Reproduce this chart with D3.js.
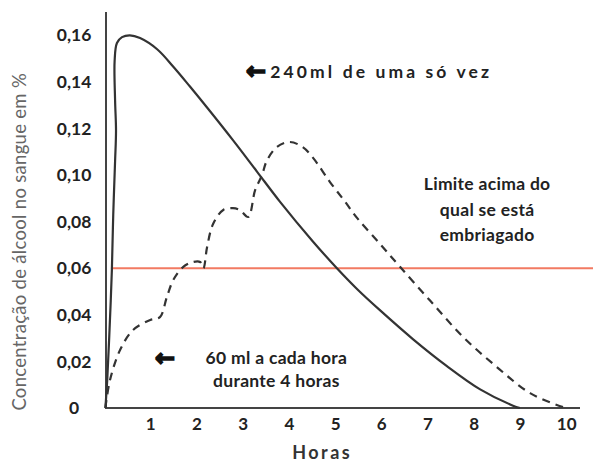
<!DOCTYPE html>
<html><head><meta charset="utf-8">
<script src="https://cdn.jsdelivr.net/npm/d3@7"></script>
<style>
html,body{margin:0;padding:0;background:#fff;}
svg{display:block;}
</style></head>
<body>
<svg id="c" width="593" height="462"></svg>
<script>
// ---- data ----
const singleDoseHours = [0.03,0.07,0.11,0.17,0.2,0.24,0.26,0.24,0.23,0.28,0.39,0.56,0.78,1.15,1.5,1.86,2.23,2.79,3.31,3.81,4.52,5.04,5.48,5.97,6.69,7.42,8.14,8.85,9.0];
const singleDoseValues = [0,0.012,0.029,0.059,0.083,0.106,0.119,0.132,0.149,0.1567,0.1592,0.160,0.1588,0.1540,0.1465,0.1380,0.1290,0.1150,0.1015,0.0885,0.0715,0.060,0.051,0.042,0.0295,0.018,0.008,0.001,0];
const hourlyDoseHours = [0.03,0.13,0.35,0.63,1.0,1.21,1.36,1.5,1.71,1.93,2.08,2.15,2.23,2.36,2.58,2.79,2.94,3.12,3.27,3.42,3.52,3.74,4.02,4.3,4.52,4.89,5.2,5.48,5.97,6.41,7.06,7.77,8.5,9.22,9.94,10.05];
const hourlyDoseValues = [0,0.012,0.025,0.0335,0.0378,0.039,0.0476,0.055,0.0605,0.0627,0.0627,0.060,0.069,0.079,0.085,0.0858,0.085,0.082,0.0935,0.1,0.106,0.112,0.1142,0.112,0.1075,0.097,0.089,0.0815,0.0705,0.0605,0.046,0.0305,0.0176,0.0064,0.0004,0];
const limitValue = 0.06;
const xTickValues = [1,2,3,4,5,6,7,8,9,10];
const yTickValues = [0,0.02,0.04,0.06,0.08,0.10,0.12,0.14,0.16];
const yTickLabels = ["0","0,02","0,04","0,06","0,08","0,10","0,12","0,14","0,16"];
const xAxisTitle = "Horas";
const yAxisTitle = "Concentração de álcool no sangue em %";
const singleDoseLabel = "240ml de uma só vez";
const hourlyDoseLabel = ["60 ml a cada hora","durante 4 horas"];
const limitLabel = ["Limite acima do","qual se está","embriagado"];

// ---- chart ----
const svg = d3.select("#c");
const x = d3.scaleLinear().domain([0,10.3]).range([104,580]);
const y = d3.scaleLinear().domain([0,0.17]).range([408,12]);
const font = "Lato, 'Open Sans', sans-serif";
const ink = "#222";

// limit line
svg.append("line")
  .attr("x1", x(0.15)).attr("x2", x(10.6))
  .attr("y1", y(limitValue)).attr("y2", y(limitValue))
  .attr("stroke","#f27a62").attr("stroke-width",2);

// axes
const yAxis = d3.axisLeft(y).tickValues(yTickValues).tickSize(0)
  .tickFormat((d,i)=>yTickLabels[i]);
const gy = svg.append("g").attr("transform",`translate(${x(0)+2},0)`).call(yAxis);
gy.select(".domain").attr("stroke","#444").attr("stroke-width",2)
  .attr("d", `M0,${y(0)+1}V${y(0.17)}`);
gy.selectAll("text").attr("x",-32).attr("text-anchor","middle")
  .attr("font-family",font).attr("font-weight","bold").attr("font-size",17.5).attr("fill",ink);

const xAxis = d3.axisBottom(x).tickValues(xTickValues).tickSize(0).tickPadding(10).tickFormat(d3.format("d"));
const gx = svg.append("g").attr("transform",`translate(0,${y(0)})`).call(xAxis);
gx.select(".domain").attr("stroke","#444").attr("stroke-width",2)
  .attr("d", `M${x(0)+1},0H${x(10.3)}`);
gx.selectAll("text").attr("font-family",font).attr("font-weight","bold").attr("font-size",17).attr("fill",ink);

// lines
const line = d3.line().x(d=>x(d[0])).y(d=>y(d[1])).curve(d3.curveCatmullRom.alpha(0.5));
svg.append("path").datum(singleDoseHours.map((h,i)=>[h,singleDoseValues[i]]))
  .attr("d",line).attr("fill","none").attr("stroke","#333").attr("stroke-width",2.2);
svg.append("path").datum(hourlyDoseHours.map((h,i)=>[h,hourlyDoseValues[i]]))
  .attr("d",line).attr("fill","none").attr("stroke","#333").attr("stroke-width",2.2)
  .attr("stroke-dasharray","8,6");

// titles
svg.append("text").attr("x",x(4.7)+1).attr("y",459).attr("text-anchor","middle")
  .attr("font-family",font).attr("font-weight","bold").attr("font-size",18)
  .attr("letter-spacing","2.5px").attr("fill","#333").text(xAxisTitle);
svg.append("text").attr("transform",`translate(26,${y(0.0735)+5}) rotate(-90)`)
  .attr("text-anchor","middle").attr("font-family",font).attr("font-size",18.5)
  .attr("letter-spacing","0.3px").attr("fill","#666").text(yAxisTitle);

// annotations
function arrow(cx, cy){
  svg.append("text").attr("x",cx).attr("y",cy).attr("text-anchor","middle")
    .attr("dominant-baseline","central")
    .attr("font-family","'DejaVu Sans'").attr("font-weight","bold").attr("font-size",24)
    .attr("fill","#111").attr("stroke","#111").attr("stroke-width",1.6).text("\u2190");
}
arrow(x(3.29), y(0.1445));
svg.append("text").attr("x",x(3.6)).attr("y",y(0.1445)+6.5)
  .attr("font-family",font).attr("font-weight","bold").attr("font-size",17.5)
  .attr("letter-spacing","3.1px").attr("fill",ink).text(singleDoseLabel);

arrow(x(1.32), y(0.0215));
const t2 = svg.append("text").attr("text-anchor","middle").attr("font-family",font)
  .attr("font-weight","bold").attr("font-size",17.5).attr("letter-spacing","0.3px").attr("fill",ink);
hourlyDoseLabel.forEach((s,i)=>t2.append("tspan").attr("x",x(3.73)).attr("y",y(0.0215)+6+i*23).text(s));

const t3 = svg.append("text").attr("text-anchor","middle").attr("font-family",font)
  .attr("font-weight","bold").attr("font-size",17.5).attr("letter-spacing","0.3px").attr("fill",ink);
limitLabel.forEach((s,i)=>t3.append("tspan").attr("x",x(8.29)).attr("y",y(0.096)+6+i*25.5).text(s));
</script>
</body></html>
